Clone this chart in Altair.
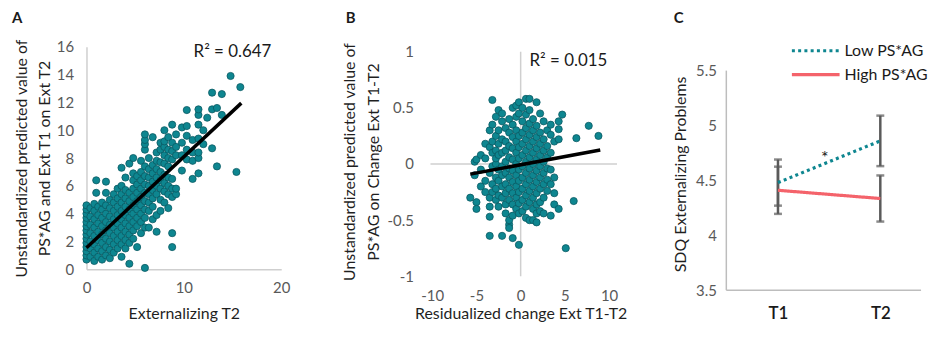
import altair as alt
import pandas as pd

FONT = "Lato"
TEAL = "#0e8690"
TEAL_EDGE = "#0a5a62"
RED = "#f4636b"
GREY = "#5a5a5a"
AXIS_GREY = "#cfcfcf"

# ---------------- Panel A data ----------------
a_col_x = [0.0, 0.4, 0.8, 1.0, 1.2, 1.6, 2.0, 2.4, 2.8, 3.2, 3.6, 4.0, 4.4, 4.8,
           5.2, 5.6, 6.0, 6.4, 6.8, 7.2, 7.6, 8.0, 8.4, 8.8, 9.2, 9.8, 10.3,
           10.9, 11.5, 12.0, 12.4, 12.9, 13.4, 13.9, 14.8, 15.4, 15.8]
a_col_y = [
    [0.7, 1.0, 1.3, 1.6, 1.9, 2.2, 2.5, 2.8, 3.1, 3.4, 3.7, 4.0, 4.3, 4.6],
    [0.9, 1.5, 2.0, 2.6, 3.2, 3.8, 4.4],
    [0.6, 1.2, 1.8, 2.4, 3.0, 3.6, 4.2, 4.7],
    [5.5, 6.4],
    [0.9, 1.5, 2.1, 2.7, 3.3, 3.9, 4.5],
    [0.7, 1.3, 1.9, 2.5, 3.1, 3.7, 4.3, 4.8],
    [1.0, 1.6, 2.2, 2.8, 3.4, 4.0, 4.6, 5.5, 6.3],
    [0.8, 1.4, 2.0, 2.6, 3.2, 3.8, 4.4, 5.0],
    [1.2, 1.8, 2.4, 3.0, 3.6, 4.2, 4.8, 5.4],
    [1.5, 2.1, 2.7, 3.3, 3.9, 4.5, 5.1, 5.8],
    [0.9, 1.8, 2.4, 3.0, 3.6, 4.2, 4.8, 5.4, 6.0, 7.3],
    [1.5, 2.1, 2.7, 3.3, 3.9, 4.5, 5.1, 5.7, 6.6],
    [0.4, 1.9, 2.5, 3.1, 3.7, 4.3, 4.9, 5.5, 7.6],
    [2.2, 2.8, 3.4, 4.0, 4.6, 5.2, 5.8, 6.4, 6.9, 8.0],
    [1.6, 3.1, 3.7, 4.3, 4.9, 5.5, 6.1, 6.7],
    [2.6, 3.4, 4.0, 4.6, 5.2, 5.8, 6.4, 7.0, 7.8],
    [0.1, 3.0, 3.7, 4.3, 4.9, 5.5, 6.1, 6.7, 7.4, 8.6, 9.0, 9.3, 9.7],
    [3.0, 4.2, 4.8, 5.4, 6.0, 6.6, 7.2, 8.0],
    [3.6, 4.5, 5.1, 5.7, 6.3, 6.9, 7.5, 9.5],
    [2.7, 3.9, 5.4, 6.0, 6.6, 7.2, 7.8, 8.4],
    [4.2, 5.0, 5.8, 6.4, 7.0, 7.7, 8.6, 9.1],
    [4.8, 5.6, 6.2, 6.8, 7.6, 8.2, 8.8, 9.2, 10.0],
    [4.4, 5.4, 6.0, 6.6, 7.4, 8.0, 8.6, 9.5],
    [1.6, 2.6, 5.2, 5.8, 6.5, 7.9, 8.5, 9.1, 10.4],
    [5.4, 5.8, 8.2, 8.8, 9.7],
    [7.1, 8.2, 9.1, 10.2],
    [7.9, 8.6, 9.6, 10.3, 11.45],
    [6.5, 7.8, 8.4, 9.3],
    [6.9, 8.0, 8.4, 9.4, 10.4, 11.1, 11.5],
    [9.0, 10.0],
    [10.9],
    [8.7, 11.5, 12.7],
    [7.4, 11.6],
    [11.1, 12.6],
    [13.9],
    [7.0],
    [13.1],
]
a_y_ticks = [0, 2, 4, 6, 8, 10, 12, 14, 16]
a_fit_x = [0.0, 15.9]
a_fit_y = [1.55, 11.95]
a_r2 = "R\u00b2 = 0.647"

# ---------------- Panel B data ----------------
b_col_x = [-5.7, -5.2, -5.0, -4.5, -4.0, -3.5, -3.2, -2.8, -2.5, -2.1, -1.7, -1.3,
           -0.9, -0.5, -0.2, 0.2, 0.6, 1.0, 1.4, 1.8, 2.2, 2.6, 3.0, 3.4, 3.8,
           4.3, 4.7, 5.1, 6.0, 6.3, 7.7, 8.8]
b_col_y = [
    [-0.30],
    [0.02, -0.10],
    [-0.34, -0.40, 0.04],
    [-0.05, -0.20, 0.08],
    [-0.15, 0.05, -0.25, 0.18],
    [-0.38, -0.47, -0.64, 0.15, 0.30, -0.08, -0.30],
    [0.57, 0.20, 0.10, -0.02, -0.18, -0.25, 0.35],
    [0.42, 0.25, 0.12, 0.00, -0.12, -0.22, -0.32, 0.05],
    [0.48, 0.30, 0.18, 0.08, -0.05, -0.15, -0.28, -0.38],
    [-0.64, 0.38, 0.22, 0.10, -0.02, -0.10, -0.20, -0.30, 0.45],
    [0.32, 0.20, 0.12, 0.02, -0.08, -0.18, -0.26, -0.36, -0.44],
    [0.40, 0.28, 0.16, 0.06, -0.04, -0.12, -0.22, -0.32, -0.54, -0.57, -0.50],
    [-0.66, 0.50, 0.35, 0.24, 0.14, 0.04, -0.06, -0.16, -0.26, -0.36, -0.46],
    [0.52, 0.42, 0.30, 0.20, 0.10, 0.00, -0.10, -0.20, -0.30, -0.40],
    [-0.72, 0.55, 0.45, 0.25, 0.15, 0.05, -0.05, -0.15, -0.25, -0.35, -0.44],
    [0.50, 0.38, 0.28, 0.18, 0.08, -0.02, -0.12, -0.22, -0.32, -0.42],
    [0.58, 0.44, 0.32, 0.22, 0.12, 0.02, -0.08, -0.18, -0.28, -0.38, -0.48],
    [0.58, 0.48, 0.36, 0.26, 0.16, 0.06, -0.04, -0.14, -0.24, -0.34, -0.50],
    [0.40, 0.30, 0.20, 0.10, 0.00, -0.10, -0.20, -0.30, -0.40, -0.50],
    [0.55, 0.34, 0.24, 0.14, 0.04, -0.06, -0.16, -0.26, -0.36, -0.44, -0.52],
    [0.45, 0.28, 0.18, 0.08, -0.02, -0.12, -0.22, -0.34, -0.42],
    [0.38, 0.22, 0.12, 0.02, -0.08, -0.18, -0.30, -0.44],
    [0.30, 0.16, 0.06, -0.04, -0.14, -0.24],
    [0.26, 0.10, -0.05, -0.18, -0.46, 0.35],
    [0.20, -0.12, -0.26, -0.36],
    [0.31, 0.38, 0.22, -0.40],
    [0.44],
    [-0.75],
    [-0.33],
    [0.23],
    [0.34],
    [0.25],
]
b_fit_x = [-5.7, 9.0]
b_fit_y = [-0.09, 0.124]
b_r2 = "R\u00b2 = 0.015"

# ---------------- Panel C data ----------------
c_time = ["T1", "T2"]
c_groups = ["Low PS*AG", "High PS*AG"]
c_low_mean = [4.48, 4.86]
c_low_err = [0.21, 0.23]
c_high_mean = [4.41, 4.335]
c_high_err = [0.215, 0.21]

# ---------------- tables ----------------
dfA = pd.DataFrame([(x, y) for x, ys in zip(a_col_x, a_col_y) for y in ys], columns=["x", "y"])
dfAfit = pd.DataFrame({"x": a_fit_x, "y": a_fit_y})
dfB = pd.DataFrame([(x, y) for x, ys in zip(b_col_x, b_col_y) for y in ys], columns=["x", "y"])
dfBfit = pd.DataFrame({"x": b_fit_x, "y": b_fit_y})

rows = []
for i, t in enumerate(c_time):
    rows.append({"time": t, "group": c_groups[0], "mean": c_low_mean[i],
                 "lo": c_low_mean[i] - c_low_err[i], "hi": c_low_mean[i] + c_low_err[i]})
    rows.append({"time": t, "group": c_groups[1], "mean": c_high_mean[i],
                 "lo": c_high_mean[i] - c_high_err[i], "hi": c_high_mean[i] + c_high_err[i]})
dfC = pd.DataFrame(rows)

MINUS_FIX = "replace(format(datum.value, '.1~f'), '\u2212', '-')"

pt_style = dict(shape="circle", filled=True, fill=TEAL, stroke=TEAL_EDGE,
                strokeWidth=0.8, size=52, opacity=1)


def one_row(text):
    return alt.Chart(pd.DataFrame({"t": [text]}))


def panel_label(letter, dx, dy):
    return one_row(letter).mark_text(
        align="left", baseline="middle", fontSize=15, fontWeight="bold", color="#1a1a1a"
    ).encode(text="t:N", x=alt.value(dx), y=alt.value(dy))


# ---------------- Panel A ----------------
xA = alt.X("x:Q", scale=alt.Scale(domain=[0, 20], nice=False),
           axis=alt.Axis(values=[0, 10, 20], title="Externalizing T2",
                         labelPadding=11, titlePadding=10, labelOverlap=False))
yA = alt.Y("y:Q", scale=alt.Scale(domain=[0, 16], nice=False),
           axis=alt.Axis(values=a_y_ticks, tickCount=9, labelOverlap=False, labelSeparation=-20,
                         title=["Unstandardized predicted value of", "PS*AG and Ext T1 on Ext T2"],
                         labelPadding=13, titlePadding=4, titleLineHeight=23))
ptsA = alt.Chart(dfA).mark_point(**pt_style).encode(x=xA, y=yA)
fitA = alt.Chart(dfAfit).mark_line(color="black", strokeWidth=3.5).encode(x=xA, y=yA)
r2A = one_row(a_r2).mark_text(
    align="left", baseline="middle", fontSize=17, color="#1a1a1a"
).encode(text="t:N", x=alt.datum(11.0), y=alt.datum(15.6))
panelA = alt.layer(ptsA, fitA, r2A, panel_label("A", -75, -29)).properties(width=196, height=224)

# ---------------- Panel B ----------------
xB = alt.X("x:Q", scale=alt.Scale(domain=[-10, 10], nice=False, zero=False),
           axis=alt.Axis(values=[-10, -5, 0, 5, 10], title="Residualized change Ext T1-T2",
                         domain=False, labelPadding=12, titlePadding=3, labelExpr=MINUS_FIX,
                         labelOverlap=False))
yB = alt.Y("y:Q", scale=alt.Scale(domain=[-1, 1.044], nice=False, zero=False),
           axis=alt.Axis(values=[-1, -0.5, 0, 0.5, 1], domain=False, labelOverlap=False,
                         title=["Unstandardized predicted value of", "PS*AG on Change Ext T1-T2"],
                         labelPadding=19, titlePadding=6, titleLineHeight=24,
                         labelExpr=MINUS_FIX))
vruleB = one_row("v").mark_rule(color=AXIS_GREY, strokeWidth=1.5).encode(
    x=alt.datum(0), y=alt.datum(-1), y2=alt.datum(1))
hruleB = one_row("h").mark_rule(color=AXIS_GREY, strokeWidth=1.5).encode(
    y=alt.datum(0), x=alt.datum(-10.2), x2=alt.datum(10.9))
ptsB = alt.Chart(dfB).mark_point(**pt_style).encode(x=xB, y=yB)
fitB = alt.Chart(dfBfit).mark_line(color="black", strokeWidth=3.5).encode(x=xB, y=yB)
r2B = one_row(b_r2).mark_text(
    align="left", baseline="middle", fontSize=17, color="#1a1a1a"
).encode(text="t:N", x=alt.datum(1.0), y=alt.datum(0.92))
panelB = alt.layer(vruleB, hruleB, ptsB, fitB, r2B, panel_label("B", -87, -29)).properties(
    width=178, height=231)

# ---------------- Panel C ----------------
C_W = 196
xC = alt.X("time:N", scale=alt.Scale(type="point", domain=c_time, range=[52, 155], padding=0),
           axis=alt.Axis(title=None, labelAngle=0, labelPadding=15, labelFontSize=17,
                         labelColor="#1a1a1a", labelFontWeight=600, domain=False))
yC = alt.Y("mean:Q", scale=alt.Scale(domain=[3.5, 5.717], nice=False, zero=False),
           axis=alt.Axis(values=[3.5, 4, 4.5, 5, 5.5], domain=False, labelOverlap=False,
                         title="SDQ Externalizing Problems", labelPadding=10,
                         titlePadding=7, titleY=128, labelExpr=MINUS_FIX))
yaxisC = one_row("y").mark_rule(color="#bdbdbd", strokeWidth=1.5).encode(
    x=alt.value(0), y=alt.datum(3.5), y2=alt.datum(5.5))
xaxisC = one_row("x").mark_rule(color="#bdbdbd", strokeWidth=1.5).encode(
    x=alt.value(0), x2=alt.value(C_W), y=alt.datum(3.5))
errC = alt.Chart(dfC).mark_rule(color=GREY, strokeWidth=2.5).encode(
    x=xC, y=alt.Y("lo:Q"), y2="hi:Q")
capLo = alt.Chart(dfC).mark_tick(color=GREY, orient="horizontal", size=8, thickness=2.5).encode(
    x=xC, y="lo:Q")
capHi = alt.Chart(dfC).mark_tick(color=GREY, orient="horizontal", size=8, thickness=2.5).encode(
    x=xC, y="hi:Q")
linesC = alt.Chart(dfC).mark_line(strokeWidth=3.2).encode(
    x=xC, y=yC,
    color=alt.Color("group:N", scale=alt.Scale(domain=c_groups, range=[TEAL, RED]), legend=None),
    strokeDash=alt.StrokeDash("group:N", scale=alt.Scale(domain=c_groups, range=[[3, 3.3], [1, 0]]),
                              legend=None),
)
# legend keys (drawn as annotations above the plot)
legLow = one_row(c_groups[0]).mark_rule(color=TEAL, strokeWidth=3.2, strokeDash=[3, 3.3]).encode(
    x=alt.value(66), x2=alt.value(114), y=alt.value(4))
legHigh = one_row(c_groups[1]).mark_rule(color=RED, strokeWidth=3.2).encode(
    x=alt.value(66), x2=alt.value(114), y=alt.value(28))
legLowT = one_row(c_groups[0]).mark_text(align="left", baseline="middle", fontSize=16,
                                         color="#1a1a1a").encode(
    text="t:N", x=alt.value(119), y=alt.value(4))
legHighT = one_row(c_groups[1]).mark_text(align="left", baseline="middle", fontSize=16,
                                          color="#1a1a1a").encode(
    text="t:N", x=alt.value(119), y=alt.value(28))
starC = one_row("*").mark_text(
    fontSize=18, color="#1a1a1a", baseline="middle", dx=47
).encode(text="t:N", x=alt.datum("T1"), y=alt.datum(4.69))
panelC = alt.layer(yaxisC, xaxisC, errC, capLo, capHi, linesC, starC,
                   legLow, legHigh, legLowT, legHighT,
                   panel_label("C", -53, -29)).properties(width=C_W, height=245)

chart = alt.hconcat(
    alt.hconcat(panelA, panelB, spacing=51), panelC, spacing=45
).configure(
    font=FONT, padding={"left": 4, "top": 2, "right": 0, "bottom": 0}
).configure_view(stroke=None).configure_axis(
    grid=False, ticks=False, domainColor=AXIS_GREY, domainWidth=1.5, labelOverlap=False,
    labelFlush=False,
    labelFont=FONT, labelFontSize=15, labelColor="#595959",
    titleFont=FONT, titleFontSize=16, titleColor="#1f1f1f", titleFontWeight="normal"
)

chart.save("out.html", embed_options={"renderer": "svg", "actions": False})
